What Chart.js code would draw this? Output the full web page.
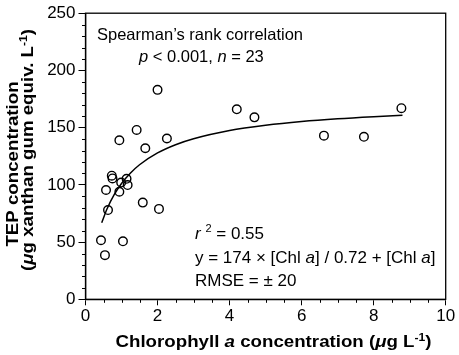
<!DOCTYPE html>
<html>
<head>
<meta charset="utf-8">
<script src="https://cdn.jsdelivr.net/npm/chart.js@4/dist/chart.umd.min.js"></script>
<style>
html,body{margin:0;padding:0;background:#fff;}
#wrap{width:459px;height:355px;position:relative;}
</style>
</head>
<body>
<div id="wrap"><canvas id="c" width="459" height="355"></canvas></div>
<script>
const chlA = [2.0, 0.94, 1.42, 1.66, 2.26, 4.2, 4.69, 8.77, 6.62, 7.73,
              0.73, 0.75, 1.14, 0.99, 1.17, 0.57, 0.94, 1.59, 2.04, 0.625,
              0.43, 1.04, 0.54];
const tep  = [183, 139, 148, 132, 140.5, 166, 159, 167, 143, 142,
              108, 105.6, 105.3, 102, 99.8, 95.5, 94, 84.5, 79, 78,
              51.6, 50.7, 38.6];
// Fitted curve
const fitX = [0.45, 0.6, 0.8, 1.0, 1.25, 1.5, 2.0, 2.5, 3.0, 4.0, 5.0, 6.0, 7.0, 8.0, 8.8];
const fitY = [66.9, 79.1, 91.6, 101.2, 110.4, 117.6, 127.9, 135.1, 140.3, 147.5, 152.1, 155.4, 157.8, 159.6, 160.8];
// Axis ticks
const xTicks = [0, 2, 4, 6, 8, 10];
const yTicks = [0, 50, 100, 150, 200, 250];

const FONT = '"Liberation Sans", Arial, Helvetica, sans-serif';

function runsWidth(ctx, runs){
  let w = 0;
  for (const r of runs){ ctx.font = (r.style||'') + ' ' + (r.size) + 'px ' + FONT; w += ctx.measureText(r.t).width; }
  return w;
}
function drawRuns(ctx, runs, x, y){
  let cx = x;
  for (const r of runs){
    ctx.font = (r.style||'') + ' ' + r.size + 'px ' + FONT;
    ctx.fillText(r.t, cx, y + (r.dy||0));
    cx += ctx.measureText(r.t).width;
  }
}
// draw runs centred at cx, horizontally stretched by sx
function drawCentered(ctx, runs, cx, y, sx){
  const w = runsWidth(ctx, runs);
  ctx.save();
  ctx.translate(cx, y);
  ctx.scale(sx, 1);
  drawRuns(ctx, runs, -w/2, 0);
  ctx.restore();
}

const decor = {
  id: 'decor',
  afterDraw(chart){
    const ctx = chart.ctx;
    const a = chart.chartArea;
    const xs = chart.scales.x, ys = chart.scales.y;
    ctx.save();
    // frame
    ctx.strokeStyle = '#000'; ctx.lineWidth = 1.3;
    ctx.strokeRect(a.left, a.top, a.right - a.left, a.bottom - a.top);
    // minor ticks
    ctx.lineWidth = 1;
    ctx.beginPath();
    for (let v = 0.5; v < 10; v += 0.5){
      if (Math.abs(v/2 - Math.round(v/2)) < 1e-6) continue;
      const px = Math.round(xs.getPixelForValue(v)) + 0.5;
      ctx.moveTo(px, a.bottom); ctx.lineTo(px, a.bottom + 3.5);
    }
    for (let v = 10; v < 250; v += 10){
      if (v % 50 === 0) continue;
      const py = Math.round(ys.getPixelForValue(v)) + 0.5;
      ctx.moveTo(a.left, py); ctx.lineTo(a.left - 3.5, py);
    }
    ctx.stroke();

    ctx.fillStyle = '#000';
    ctx.textBaseline = 'alphabetic';
    ctx.textAlign = 'left';
    // annotations
    const A = 16.5, B = 17;
    drawRuns(ctx, [{t:'Spearman\u2019s rank correlation', size:A}], 97, 39.5);
    drawRuns(ctx, [{t:'p', style:'italic', size:A},{t:' < 0.001, ', size:A},{t:'n', style:'italic', size:A},{t:' = 23', size:A}], 139, 62);
    drawRuns(ctx, [{t:'r', style:'italic', size:B},{t:' ', size:B},{t:'2', size:11, dy:-7},{t:' = 0.55', size:B}], 195, 239);
    drawRuns(ctx, [{t:'y = 174 \u00d7 [Chl ', size:B},{t:'a', style:'italic', size:B},{t:'] / 0.72 + [Chl ', size:B},{t:'a', style:'italic', size:B},{t:']', size:B}], 195, 262.5);
    drawRuns(ctx, [{t:'RMSE = \u00b1 20', size:B}], 195, 286);

    const TS = 17, SX = 1.1;
    // x axis title
    const xr = [{t:'Chlorophyll ', style:'bold', size:TS},{t:'a', style:'italic bold', size:TS},{t:' concentration (', style:'bold', size:TS},
                {t:'\u03bc', style:'italic bold', size:TS},{t:'g L', style:'bold', size:TS},{t:'-1', style:'bold', size:11, dy:-6},{t:')', style:'bold', size:TS}];
    drawCentered(ctx, xr, 273.5, 346.5, SX);

    // y axis title (rotated)
    const l1 = [{t:'TEP concentration', style:'bold', size:TS}];
    const l2 = [{t:'(', style:'bold', size:TS},{t:'\u03bc', style:'italic bold', size:TS},{t:'g xanthan gum equiv. L', style:'bold', size:TS},
                {t:'-1', style:'bold', size:11, dy:-6},{t:')', style:'bold', size:TS}];
    ctx.save();
    ctx.translate(17.5, 0); ctx.rotate(-Math.PI/2);
    drawCentered(ctx, l1, -164, 0, SX);
    ctx.restore();
    ctx.save();
    ctx.translate(32.5, 0); ctx.rotate(-Math.PI/2);
    drawCentered(ctx, l2, -150, 0, SX);
    ctx.restore();
    ctx.restore();
  }
};

const pts = chlA.map((x,i)=>({x, y: tep[i]}));
const fit = fitX.map((x,i)=>({x, y: fitY[i]}));

new Chart(document.getElementById('c'), {
  type: 'scatter',
  data: {
    datasets: [
      { data: fit, showLine: true, pointRadius: 0, borderColor: '#000', borderWidth: 1.5,
        cubicInterpolationMode: 'monotone', fill: false, order: 2 },
      { data: pts, pointRadius: 4.3, pointBorderWidth: 1.4, pointBorderColor: '#000',
        pointBackgroundColor: 'rgba(0,0,0,0)', showLine: false, order: 1 }
    ]
  },
  options: {
    responsive: false,
    animation: false,
    devicePixelRatio: 1,
    layout: { padding: { left: 0, top: 10.7, right: 13.3, bottom: 0 } },
    plugins: { legend: { display: false }, tooltip: { enabled: false } },
    scales: {
      x: {
        type: 'linear', min: 0, max: 10,
        afterBuildTicks: s => { s.ticks = xTicks.map(v => ({value: v})); },
        afterFit: s => { s.height = 355 - 299.3; },
        ticks: { color: '#000', font: { family: FONT, size: 17 }, padding: 1, maxRotation: 0 },
        grid: { drawOnChartArea: false, color: '#000', tickLength: 6, lineWidth: 1 },
        border: { color: '#000', width: 1.3 }
      },
      y: {
        type: 'linear', min: 0, max: 250,
        afterBuildTicks: s => { s.ticks = yTicks.map(v => ({value: v})); },
        afterFit: s => { s.width = 85.5; },
        ticks: { color: '#000', font: { family: FONT, size: 17 }, padding: 3 },
        grid: { drawOnChartArea: false, color: '#000', tickLength: 7, lineWidth: 1 },
        border: { color: '#000', width: 1.3 }
      }
    }
  },
  plugins: [decor]
});
</script>
</body>
</html>
